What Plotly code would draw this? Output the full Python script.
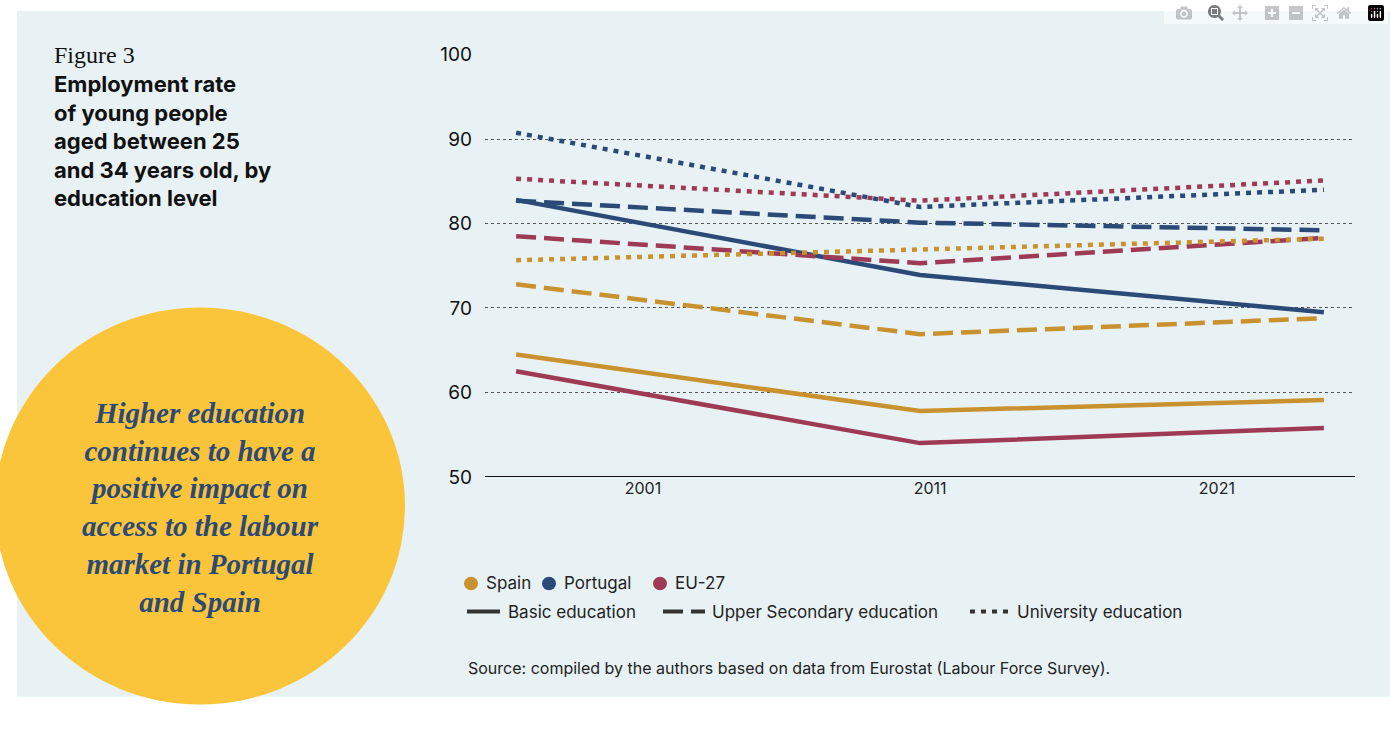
import plotly.graph_objects as go

W, H = 1390, 732

# data points (start period, 2011, latest period)
x_pos = [0, 1, 2]
tick_vals = [0.314, 1.025, 1.735]
tick_text = ['2001', '2011', '2021']

spain_basic = [64.5, 57.8, 59.1]
spain_upper = [72.8, 66.9, 68.8]
spain_univ = [75.65, 76.9, 78.2]
portugal_basic = [82.8, 73.9, 69.5]
portugal_upper = [82.7, 80.1, 79.2]
portugal_univ = [90.75, 81.96, 84.0]
eu_basic = [62.5, 54.0, 55.8]
eu_upper = [78.5, 75.3, 78.3]
eu_univ = [85.3, 82.7, 85.1]

SPAIN = '#c9922e'
PORTUGAL = '#2b4a78'
EU = '#9e3a55'
BG = '#e8f2f5'
DASH = '20px,8px'
DOT = '5px,6px'


def px(x):
    return x / W


def py(y):
    return 1 - y / H


fig = go.Figure()

series = [
    (spain_basic, SPAIN, 'solid'), (eu_basic, EU, 'solid'), (portugal_basic, PORTUGAL, 'solid'),
    (spain_upper, SPAIN, DASH), (eu_upper, EU, DASH), (portugal_upper, PORTUGAL, DASH),
    (spain_univ, SPAIN, DOT), (eu_univ, EU, DOT), (portugal_univ, PORTUGAL, DOT),
]
for vals, col, dash in series:
    fig.add_trace(go.Scatter(x=x_pos, y=vals, mode='lines', showlegend=False, hoverinfo='skip',
                             line=dict(color=col, width=4.5, dash=dash)))

shapes = [
    dict(type='rect', xref='paper', yref='paper', x0=px(17), x1=1, y0=py(708), y1=1,
         fillcolor=BG, line=dict(width=0), layer='below'),
    dict(type='circle', xref='paper', yref='paper', x0=px(-5), x1=px(405), y0=py(716), y1=py(306),
         fillcolor='#fbc53b', line=dict(width=0), layer='below'),
]
# legend: colour dots
for cx, col in [(471, SPAIN), (549, PORTUGAL), (660, EU)]:
    shapes.append(dict(type='circle', xref='paper', yref='paper', x0=px(cx - 7), x1=px(cx + 7),
                       y0=py(598), y1=py(584), fillcolor=col, line=dict(width=0)))
# legend: line styles
for x0, x1, dash in [(467, 500, 'solid'), (663, 705, DASH), (970, 1008, DOT)]:
    shapes.append(dict(type='line', xref='paper', yref='paper', x0=px(x0), x1=px(x1),
                       y0=py(620), y1=py(620), line=dict(color='#333333', width=4, dash=dash)))

font = 'Inter, Roboto, sans-serif'
ann = [
    dict(x=px(52), y=py(30), text='Figure 3', font=dict(family='Liberation Serif, serif', size=24, color='#111')),
    dict(x=px(52), y=py(60),
         text='<b>Employment rate<br>of young people<br>aged between 25<br>and 34 years old, by<br>education level</b>',
         font=dict(family=font, size=22, color='#111')),
    dict(x=px(484), y=py(591), text='Spain', yanchor='middle', font=dict(family=font, size=17, color='#222')),
    dict(x=px(562), y=py(591), text='Portugal', yanchor='middle', font=dict(family=font, size=17, color='#222')),
    dict(x=px(673), y=py(591), text='EU-27', yanchor='middle', font=dict(family=font, size=17, color='#222')),
    dict(x=px(506), y=py(620), text='Basic education', yanchor='middle', font=dict(family=font, size=17, color='#222')),
    dict(x=px(710), y=py(620), text='Upper Secondary education', yanchor='middle', font=dict(family=font, size=17, color='#222')),
    dict(x=px(1015), y=py(620), text='University education', yanchor='middle', font=dict(family=font, size=17, color='#222')),
    dict(x=px(466), y=py(678), text='Source: compiled by the authors based on data from Eurostat (Labour Force Survey).',
         yanchor='middle', font=dict(family=font, size=16, color='#222')),
]
for a in ann:
    a.update(xref='paper', yref='paper', showarrow=False, align='left')
    a.setdefault('xanchor', 'left')
    a.setdefault('yanchor', 'top')
fig.add_annotation(x=px(200), y=py(513), xref='paper', yref='paper', showarrow=False, align='center',
                   xanchor='center', yanchor='middle',
                   text='<i><b>Higher education<br>continues to have a<br>positive impact on<br>access to the labour<br>market in Portugal<br>and Spain</b></i>',
                   font=dict(family='Liberation Serif, serif', size=29, color=PORTUGAL))
for a in ann:
    fig.add_annotation(**a)

fig.update_layout(
    width=W, height=H, margin=dict(l=0, r=0, t=0, b=0),
    paper_bgcolor='white', plot_bgcolor=BG, shapes=shapes,
    xaxis=dict(domain=[px(485), px(1355)], range=[-0.077, 2.077], tickvals=tick_vals, ticktext=tick_text,
               showgrid=False, zeroline=False, showline=False, ticks='',
               tickfont=dict(family=font, size=16, color='#222')),
    yaxis=dict(domain=[py(481), py(45)], range=[50, 100], dtick=10, showgrid=True,
               gridcolor='#555', griddash='dot', gridwidth=1, zeroline=False, ticks='',
               tickfont=dict(family=font, size=19, color='#111'), ticklabelstandoff=12),
)
fig.add_shape(type='line', xref='paper', yref='y', x0=px(485), x1=px(1355), y0=50, y1=50,
              line=dict(color='#111', width=2))

fig.write_html('out.html',
               post_script="document.body.style.margin='0';document.body.style.overflow='hidden';")
